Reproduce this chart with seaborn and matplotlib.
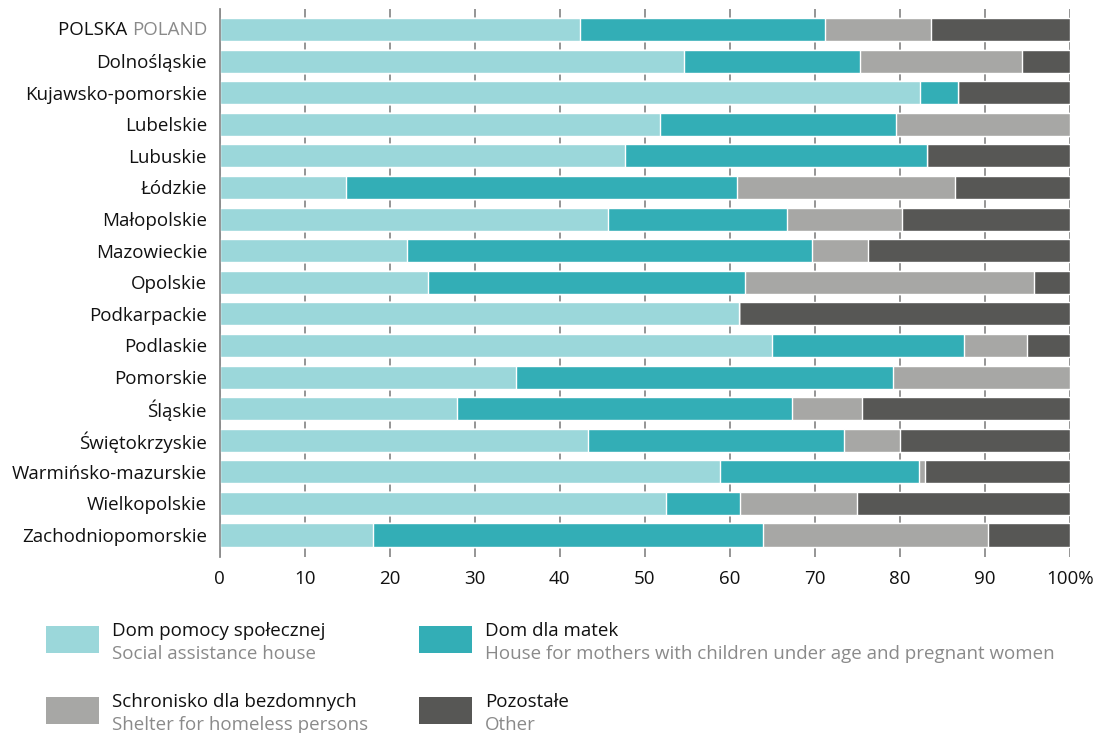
import numpy as np
import pandas as pd
import matplotlib
matplotlib.use("Agg")
import matplotlib.pyplot as plt
from matplotlib.patches import Rectangle
import seaborn as sns

# Data (percent shares)
REGIONS = ["POLSKA", "Dolnośląskie", "Kujawsko-pomorskie", "Lubelskie", "Lubuskie",
           "Łódzkie", "Małopolskie", "Mazowieckie", "Opolskie", "Podkarpackie",
           "Podlaskie", "Pomorskie", "Śląskie", "Świętokrzyskie",
           "Warmińsko-mazurskie", "Wielkopolskie", "Zachodniopomorskie"]
SOCIAL_HOUSE = [42.4, 54.6, 82.4, 51.8, 47.7, 14.9, 45.7, 22.0, 24.5, 61.1,
                65.0, 34.9, 27.9, 43.3, 58.8, 52.5, 18.0]
MOTHERS_HOUSE = [28.8, 20.7, 4.4, 27.7, 35.5, 45.9, 21.0, 47.7, 37.3, 0.0,
                 22.5, 44.3, 39.4, 30.1, 23.4, 8.7, 45.9]
SHELTER = [12.5, 19.1, 0.0, 20.5, 0.0, 25.7, 13.5, 6.5, 34.0, 0.0,
           7.5, 20.8, 8.2, 6.6, 0.8, 13.8, 26.5]
OTHER = [16.3, 5.6, 13.2, 0.0, 16.8, 13.5, 19.8, 23.8, 4.2, 38.9,
         5.0, 0.0, 24.5, 20.0, 17.0, 25.0, 9.6]

XTICKS = [0, 10, 20, 30, 40, 50, 60, 70, 80, 90, 100]
XTICK_LABELS = ["0", "10", "20", "30", "40", "50", "60", "70", "80", "90", "100%"]

SERIES = [
    ("Dom pomocy społecznej", "Social assistance house", SOCIAL_HOUSE, "#9BD7DA"),
    ("Dom dla matek", "House for mothers with children under age and pregnant women", MOTHERS_HOUSE, "#33AEB6"),
    ("Schronisko dla bezdomnych", "Shelter for homeless persons", SHELTER, "#A7A7A5"),
    ("Pozostałe", "Other", OTHER, "#575755"),
]

FS = 13.5

sns.set_theme(style="white")
plt.rcParams['font.family'] = ['Open Sans', 'DejaVu Sans']

df = pd.DataFrame({"region": REGIONS})
cum = np.zeros(len(REGIONS))
for name, _, vals, _ in SERIES:
    cum = cum + np.array(vals)
    df[name] = cum

fig = plt.figure(figsize=(11.01, 7.33), dpi=100)
ax = fig.add_axes([0.1994, 0.2401, 0.7724, 0.7476])

# draw the stacked bars back to front (cumulative totals)
for name, _, _, color in reversed(SERIES):
    sns.barplot(data=df, x=name, y="region", color=color, orient="h",
                width=0.73, saturation=1, ax=ax, zorder=2)

ax.set_xlim(0, 100)
ax.set_ylim(16.696, -0.649)
ax.set_xlabel("")
ax.set_ylabel("")
ax.set_xticks(XTICKS)
ax.set_xticklabels(XTICK_LABELS, fontsize=FS, color="#111111")
ax.grid(axis="x", color="#8c8c8c", linewidth=1.3, zorder=0)
ax.set_axisbelow(True)
ax.tick_params(axis="x", length=0, pad=9)
ax.tick_params(axis="y", length=0, pad=9)
for s in ["top", "right", "bottom"]:
    ax.spines[s].set_visible(False)
ax.spines["left"].set_color("#8c8c8c")
ax.spines["left"].set_linewidth(1.3)

labels = list(REGIONS)
labels[0] = ""
ax.set_yticks(range(len(REGIONS)))
ax.set_yticklabels(labels, fontsize=FS, color="#111111")

# two-colour label for the national total
t = ax.annotate("POLAND", xy=(0, 0), xycoords=("axes fraction", "data"),
                xytext=(-12, 0), textcoords="offset pixels",
                ha="right", va="center", fontsize=FS, color="#8a8a8a")
ax.annotate("POLSKA ", xy=(0, 0.5), xycoords=t, ha="right", va="center",
            fontsize=FS, color="#111111")

# legend drawn by hand
legend_pos = [(0.0418, 0.1091), (0.3806, 0.1091), (0.0418, 0.0123), (0.3806, 0.0123)]
for (pl, en, _, color), (lx, ly) in zip(SERIES, legend_pos):
    fig.add_artist(Rectangle((lx, ly), 0.0481, 0.0368, transform=fig.transFigure,
                             facecolor=color, edgecolor="none"))
    fig.text(lx + 0.0599, ly + 0.0300, pl, fontsize=FS, color="#111111", va="center")
    fig.text(lx + 0.0599, ly - 0.0010, en, fontsize=FS, color="#8a8a8a", va="center")

fig.savefig("out.png", dpi=100)
